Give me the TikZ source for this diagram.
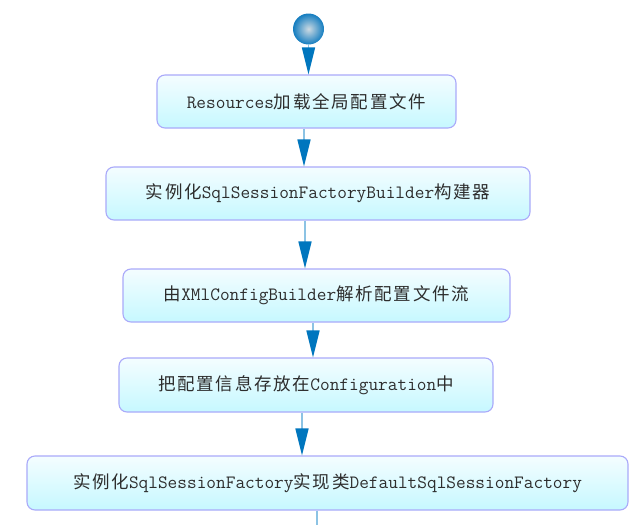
\documentclass[tikz,border=0pt]{standalone}
\usepackage{fontspec}
\newfontfamily\cjkfont{Noto Sans CJK SC}[LetterSpace=10]
\usetikzlibrary{arrows.meta,shadings}
\definecolor{boxline}{RGB}{170,170,250}
\definecolor{boxtop}{RGB}{244,253,255}
\definecolor{boxbot}{RGB}{198,248,255}
\definecolor{txt}{RGB}{45,45,45}
\definecolor{linkline}{RGB}{140,195,228}
\definecolor{headcol}{RGB}{0,118,190}
\newcommand\zh[1]{{\cjkfont\fontsize{17.5}{20}\selectfont #1}}
\tikzset{
  flowbox/.style={draw=boxline, line width=1.1pt, rounded corners=8pt,
    top color=boxtop, bottom color=boxbot, minimum height=53pt, inner sep=0pt,
    text=txt, font=\fontsize{18.8}{20}\selectfont\ttfamily},
  link/.style={draw=linkline, line width=1.6pt,
    -{Triangle[length=27pt,width=13pt,color=headcol]}},
  plainlink/.style={draw=linkline, line width=1.6pt}
}
\begin{document}
\begin{tikzpicture}[x=1pt,y=-1pt]
\useasboundingbox[fill=white] (0,0) rectangle (640,525);
\node[circle, minimum size=31pt, inner sep=0pt, inner color={rgb,255:red,205;green,218;blue,226}, outer color={rgb,255:red,20;green,125;blue,192}] (start) at (308.5,29) {};
\node[flowbox, minimum width=299pt] (b1) at (306.5,101.5) {Resources\zh{加载全局配置文件}};
\node[flowbox, minimum width=424pt] (b2) at (318,193.5) {\zh{实例化}SqlSessionFactoryBuilder\zh{构建器}};
\node[flowbox, minimum width=387pt] (b3) at (316.5,295.5) {\zh{由}XMlConfigBuilder\zh{解析配置文件流}};
\node[flowbox, minimum width=374pt, minimum height=54pt] (b4) at (306,385) {\zh{把配置信息存放在}Configuration\zh{中}};
\node[flowbox, minimum width=601pt, minimum height=54pt] (b5) at (327.5,483) {\zh{实例化}SqlSessionFactory\zh{实现类}DefaultSqlSessionFactory};
\coordinate (end) at (317,525);
\draw[link] (start.south) -- (start.south |- b1.north);
\draw[link] ([xshift=-2.5pt]b1.south) -- ([xshift=-2.5pt]b1.south |- b2.north);
\draw[link] ([xshift=-13pt]b2.south) -- ([xshift=-13pt]b2.south |- b3.north);
\draw[link] ([xshift=-3.5pt]b3.south) -- ([xshift=-3.5pt]b3.south |- b4.north);
\draw[link] ([xshift=-4pt]b4.south) -- ([xshift=-4pt]b4.south |- b5.north);
\draw[plainlink] (end |- b5.south) -- (end);
\end{tikzpicture}
\end{document}
